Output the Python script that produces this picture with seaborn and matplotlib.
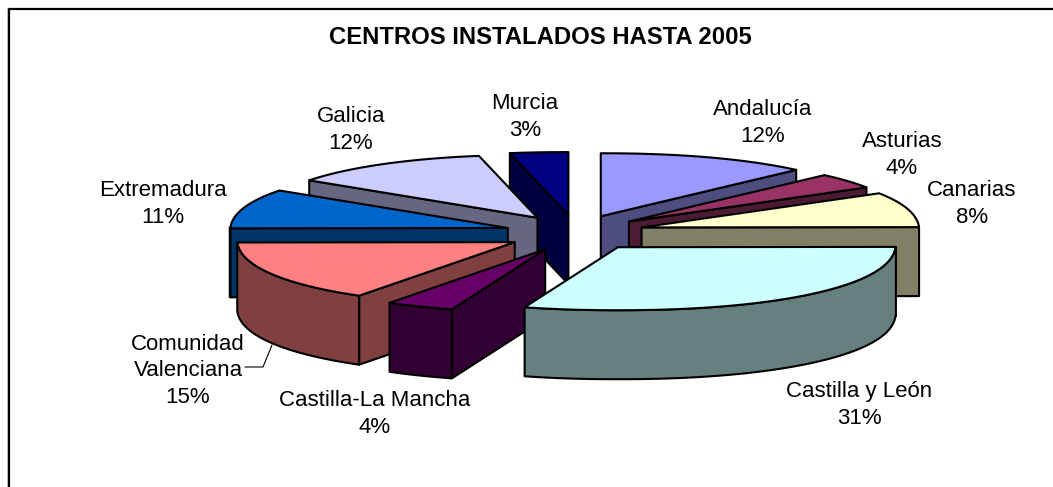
import numpy as np
import matplotlib
matplotlib.use("Agg")
import matplotlib.pyplot as plt
import seaborn as sns

# Data
regions = ["Andalucía", "Asturias", "Canarias", "Castilla y León", "Castilla-La Mancha",
           "Comunidad\nValenciana", "Extremadura", "Galicia", "Murcia"]
shares = [12, 4, 8, 31, 4, 15, 11, 12, 3]
top_colors = ["#9999FF", "#993366", "#FFFFCC", "#CCFFFF", "#660066",
              "#FF8080", "#0066CC", "#CCCCFF", "#000080"]
label_xy = [(763, 123), (902, 155), (972, 204), (859, 405), (375, 414),
            (188, 371), (163, 204), (351, 130), (525, 117)]

sns.set_theme(style="white")
plt.rcParams["font.family"] = ["Liberation Sans", "DejaVu Sans"]

# Pie geometry in pixels
cx, cy = 575, 233
rx, ry = 278, 63
ex, ey = 70, 18
depth = 69
lw = 1.5

# Back slices first, so the front ones cover them
draw_order = [8, 0, 1, 2, 7, 6, 5, 4, 3]

fig, ax = plt.subplots(figsize=(10.53, 4.87), dpi=100)
ax.set_position([0, 0, 1, 1])
ax.set_xlim(0, 1053)
ax.set_ylim(487, 0)
ax.axis("off")

# Outer frame, only top and left are inside the picture
ax.plot([7, 7, 1053], [487, 7.5, 7.5], color="#cccccc", lw=0.8)
ax.plot([9, 9, 1053], [487, 9, 9], color="black", lw=1.6)

palette = sns.color_palette(top_colors)
edges = np.cumsum([0] + shares) / sum(shares) * 2 * np.pi


def rim(angle):
    # the old 3D pie is a bit off a true ellipse near its axes
    s, c = np.sin(angle), np.cos(angle)
    x = rx * np.sign(s) * np.abs(s) ** 0.93
    y = -ry * np.sign(c) * (np.maximum(np.abs(c) - 0.06, 0) / 0.94) ** 0.9
    return x, y


def face(xs, ys, color, z):
    ax.fill(xs, ys, facecolor=color, edgecolor="black", lw=lw, joinstyle="round", zorder=z)


for rank, i in enumerate(draw_order):
    a0, a1 = edges[i], edges[i + 1]
    mid = (a0 + a1) / 2
    tx = cx + ex * np.sin(mid)
    ty = cy - ey * np.cos(mid)
    side = tuple(c * 0.5 for c in palette[i])
    z = 2 + rank

    theta = np.linspace(a0, a1, 120)
    dx, dy = rim(theta)
    arc_x, arc_y = tx + dx, ty + dy

    # straight cut faces, only when turned to the viewer
    if np.sin(a0) < -1e-9:
        face([tx, arc_x[0], arc_x[0], tx], [ty, arc_y[0], arc_y[0] + depth, ty + depth], side, z)
    if np.sin(a1) > 1e-9:
        face([tx, arc_x[-1], arc_x[-1], tx], [ty, arc_y[-1], arc_y[-1] + depth, ty + depth], side, z)

    # curved outer face, only the part turned to the viewer
    front = (theta > np.pi / 2) & (theta < 3 * np.pi / 2)
    if front.sum() > 1:
        fx, fy = arc_x[front], arc_y[front]
        face(np.r_[fx, fx[::-1]], np.r_[fy, fy[::-1] + depth], side, z)

    # top
    face(np.r_[tx, arc_x], np.r_[ty, arc_y], palette[i], z)

# Labels
for name, share, (lx, ly) in zip(regions, shares, label_xy):
    ax.text(lx, ly, f"{name}\n{share}%", ha="center", va="center", fontsize=16,
            linespacing=1.33, color="black", zorder=20)

# Leader line of Comunidad Valenciana
ax.plot([245, 263, 272], [367, 367, 345], color="black", lw=0.8, zorder=20)

ax.text(540, 38, "CENTROS INSTALADOS HASTA 2005", ha="center", va="center",
        fontsize=17.2, fontweight="bold", color="black", zorder=20)

fig.savefig("out.png", dpi=100)
